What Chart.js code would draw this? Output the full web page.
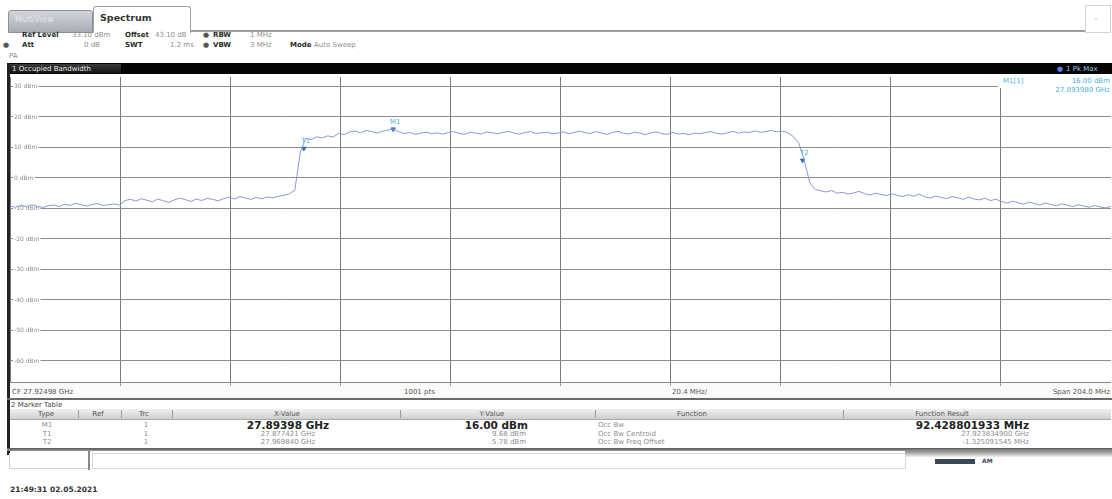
<!DOCTYPE html>
<html>
<head>
<meta charset="utf-8">
<script src="https://cdn.jsdelivr.net/npm/chart.js@4.4.1/dist/chart.umd.min.js"></script>
<style>
  body { margin: 0; width: 1112px; height: 499px; overflow: hidden; background: #fff; position: relative;
         font-family: "DejaVu Sans", sans-serif; }
  .t { position: absolute; white-space: nowrap; font-size: 7px; line-height: 8px; color: #8c8c8c; }
  .b { color: #2a2a2a; font-weight: bold; }
  .c { transform: translateX(-50%); }
  .r { transform: translateX(-100%); }
  .big { font-size: 10.5px; line-height: 10px; font-weight: bold; color: #222; }
  .cyan { color: #4fb0e2; }
  .sep { position: absolute; width: 1px; background: #9a9a9a; }
  .tick { position: absolute; top: 383px; width: 1px; height: 3px; background: #999; }
</style>
</head>
<body>
<!-- tabs -->
<div style="position:absolute;left:8px;top:10px;width:83px;height:21px;background:linear-gradient(#d2d4d8,#a9adb3);border:1px solid #8d9096;border-radius:3px 3px 0 0;"></div>
<div class="t" style="left:15px;top:16px;font-size:8px;color:#e4e8ee;">MultiView</div>
<div style="position:absolute;left:93px;top:6px;width:96px;height:26px;background:#fff;border:1px solid #a0a0a0;border-bottom:none;border-radius:3px 3px 0 0;"></div>
<div class="t" style="left:100px;top:13px;font-size:9.5px;line-height:10px;font-weight:bold;color:#333;">Spectrum</div>
<div style="position:absolute;left:190px;top:30px;width:895px;height:2px;background:#9c9c9c;"></div>
<div style="position:absolute;left:1085px;top:5px;width:24px;height:26px;border:1px solid #d4d4d4;"></div>
<div class="t" style="left:1093px;top:14px;color:#bbb;">&#8964;</div>

<!-- setup header -->
<div class="t b" style="left:22px;top:31px;">Ref Level</div>
<div class="t" style="left:72px;top:31px;">33.10 dBm</div>
<div class="t b" style="left:125px;top:31px;">Offset</div>
<div class="t" style="left:155px;top:31px;">43.10 dB</div>
<div class="t" style="left:203px;top:31px;color:#555;">&#9679;</div>
<div class="t b" style="left:213px;top:31px;">RBW</div>
<div class="t" style="left:250px;top:31px;">1 MHz</div>
<div class="t" style="left:3px;top:41px;color:#555;">&#9679;</div>
<div class="t b" style="left:22px;top:41px;">Att</div>
<div class="t" style="left:84px;top:41px;">0 dB</div>
<div class="t b" style="left:125px;top:41px;">SWT</div>
<div class="t" style="left:170px;top:41px;">1.2 ms</div>
<div class="t" style="left:203px;top:41px;color:#555;">&#9679;</div>
<div class="t b" style="left:213px;top:41px;">VBW</div>
<div class="t" style="left:250px;top:41px;">3 MHz</div>
<div class="t b" style="left:290px;top:41px;">Mode</div>
<div class="t" style="left:314px;top:41px;">Auto Sweep</div>
<div class="t" style="left:9px;top:52px;">PA</div>

<!-- window title bar -->
<div style="position:absolute;left:7px;top:63px;width:1105px;height:11px;background:#050505;"></div>
<div style="position:absolute;left:9px;top:64px;width:112px;height:9px;background:linear-gradient(#3a3a3a,#151515);"></div>
<div class="t" style="left:12px;top:65px;color:#e8e8e8;">1 Occupied Bandwidth</div>
<div class="t" style="left:1057px;top:65px;color:#5a7cf0;">&#9679;</div>
<div class="t" style="left:1066px;top:65px;color:#9cc8f0;">1 Pk Max</div>

<!-- left frame -->
<div style="position:absolute;left:7px;top:63px;width:3px;height:392px;background:#222;"></div>

<!-- plot -->
<div style="position:absolute;left:10px;top:77px;width:1101px;height:305px;">
  <canvas id="spec"></canvas>
</div>

<!-- marker info -->
<div style="position:absolute;left:998px;top:76px;width:113px;height:12px;background:#fff;"></div>
<div class="t cyan" style="left:1003px;top:77px;">M1[1]</div>
<div class="t cyan r" style="left:1110px;top:77px;">16.00 dBm</div>
<div class="t cyan r" style="left:1110px;top:86px;">27.893980 GHz</div>

<!-- axis info row -->
<div style="position:absolute;left:10px;top:382px;width:1101px;height:16px;background:#fafafa;border-top:1px solid #888;"></div>
<div class="tick" style="left:120px;"></div><div class="tick" style="left:230px;"></div>
<div class="tick" style="left:340px;"></div><div class="tick" style="left:450px;"></div>
<div class="tick" style="left:560px;"></div><div class="tick" style="left:670px;"></div>
<div class="tick" style="left:780px;"></div><div class="tick" style="left:890px;"></div>
<div class="tick" style="left:1000px;"></div>
<div class="t" style="left:12px;top:388px;color:#555;">CF 27.92498 GHz</div>
<div class="t" style="left:404px;top:388px;color:#555;">1001 pts</div>
<div class="t" style="left:672px;top:388px;color:#555;">20.4 MHz/</div>
<div class="t r" style="left:1110px;top:388px;color:#555;">Span 204.0 MHz</div>
<div style="position:absolute;left:7px;top:398px;width:1105px;height:2px;background:#6a6a6a;"></div>

<!-- marker table -->
<div class="t" style="left:11px;top:401px;color:#444;">2 Marker Table</div>
<div style="position:absolute;left:10px;top:409px;width:1101px;height:10px;background:linear-gradient(#f0f0f0,#cfcfcf);border-bottom:1px solid #aaa;"></div>
<div class="sep" style="left:78px;top:410px;height:8px;"></div>
<div class="sep" style="left:121px;top:410px;height:8px;"></div>
<div class="sep" style="left:172px;top:410px;height:8px;"></div>
<div class="sep" style="left:400px;top:410px;height:8px;"></div>
<div class="sep" style="left:595px;top:410px;height:8px;"></div>
<div class="sep" style="left:843px;top:410px;height:8px;"></div>
<div class="t c" style="left:46px;top:410px;color:#555;">Type</div>
<div class="t c" style="left:98px;top:410px;color:#555;">Ref</div>
<div class="t c" style="left:144px;top:410px;color:#555;">Trc</div>
<div class="t c" style="left:287px;top:410px;color:#555;">X-Value</div>
<div class="t c" style="left:492px;top:410px;color:#555;">Y-Value</div>
<div class="t c" style="left:692px;top:410px;color:#555;">Function</div>
<div class="t c" style="left:942px;top:410px;color:#555;">Function Result</div>

<div class="t c" style="left:47px;top:421px;">M1</div>
<div class="t c" style="left:146px;top:421px;">1</div>
<div class="t c big" style="left:288px;top:420px;">27.89398 GHz</div>
<div class="t r big" style="left:528px;top:420px;">16.00 dBm</div>
<div class="t" style="left:598px;top:421px;">Occ Bw</div>
<div class="t r big" style="left:1029px;top:420px;">92.428801933 MHz</div>

<div class="t c" style="left:47px;top:430px;">T1</div>
<div class="t c" style="left:146px;top:430px;">1</div>
<div class="t c" style="left:288px;top:430px;">27.877421 GHz</div>
<div class="t r" style="left:526px;top:430px;">9.68 dBm</div>
<div class="t" style="left:598px;top:430px;">Occ Bw Centroid</div>
<div class="t r" style="left:1029px;top:430px;">27.923834900 GHz</div>

<div class="t c" style="left:47px;top:438px;">T2</div>
<div class="t c" style="left:146px;top:438px;">1</div>
<div class="t c" style="left:288px;top:438px;">27.969840 GHz</div>
<div class="t r" style="left:526px;top:438px;">5.78 dBm</div>
<div class="t" style="left:598px;top:438px;">Occ Bw Freq Offset</div>
<div class="t r" style="left:1029px;top:438px;">-1.325091545 MHz</div>

<!-- status bar -->
<div style="position:absolute;left:7px;top:448px;width:1105px;height:3px;background:linear-gradient(#555,#9a9a9a);"></div>
<div style="position:absolute;left:9px;top:453px;width:78px;height:15px;border:1px solid #d0d0d0;border-top:none;"></div>
<div style="position:absolute;left:88px;top:451px;width:2px;height:19px;background:#888;"></div>
<div style="position:absolute;left:92px;top:453px;width:812px;height:14px;border:1px solid #d8d8d8;"></div>
<div style="position:absolute;left:905px;top:451px;width:207px;height:6px;background:linear-gradient(#8a8a8a,#f0f0f0);"></div>
<div style="position:absolute;left:935px;top:459px;width:40px;height:5px;background:#3c4656;"></div>
<div class="t" style="left:982px;top:457px;font-size:6px;color:#3c4656;font-weight:bold;">AM</div>

<div class="t" style="left:10px;top:486px;font-size:7.5px;font-weight:bold;color:#333;">21:49:31 02.05.2021</div>

<script>
// sweep settings
const startGHz = 27.82298;
const stopGHz = 28.02698;
const gridGHz = [27.82298, 27.84338, 27.86378, 27.88418, 27.90458, 27.92498,
                 27.94538, 27.96578, 27.98618, 28.00658, 28.02698];
const refLevel = 33.1;
const bottomLevel = -66.9;
const levelTicks = [30, 20, 10, 0, -10, -20, -30, -40, -50, -60];

// trace 1 (Pk Max)
const traceDbm = [
  -9.2, -9.6, -9.0, -9.4, -8.8, -9.3, -9.7, -9.1, -8.9, -9.4,
  -8.6, -9.0, -8.3, -8.8, -9.2, -8.7, -8.4, -9.0, -8.8, -8.5,
  -8.9, -7.4, -7.0, -7.6, -6.8, -7.3, -7.8, -6.9, -7.5, -8.0,
  -7.2, -6.6, -7.1, -7.7, -6.9, -7.4, -6.7, -7.0, -7.5, -6.8,
  -6.3, -6.9, -6.1, -6.6, -7.0, -6.4, -6.8, -6.2, -6.5, -6.0,
  -5.7, -5.2, -4.0, 8.5, 13.0, 12.6, 13.5, 13.1, 13.8, 13.4,
  14.6, 14.2, 15.1, 15.4, 14.8, 15.6, 15.2, 14.7, 15.3, 15.7,
  16.0, 15.1, 14.6, 14.9, 14.3, 14.7, 15.0, 14.5, 14.8, 14.4,
  14.9, 15.2, 14.6, 14.3, 15.0, 14.7, 14.4, 15.1, 14.8, 14.5,
  14.9, 15.3, 14.7, 14.4, 14.9, 15.2, 14.6, 14.8, 15.0, 14.5,
  14.7, 15.1, 14.5, 14.9, 15.4, 14.8, 14.6, 15.2, 14.7, 14.3,
  14.9, 15.3, 14.6, 14.4, 15.0, 14.7, 14.2, 14.8, 15.1, 14.5,
  14.3, 14.9, 14.4, 14.6, 14.2, 14.7, 14.5, 14.9, 15.2, 14.6,
  14.4, 14.8, 15.3, 14.7, 15.1, 14.9, 15.4, 15.0, 15.2, 15.6,
  15.1, 15.4, 14.8, 13.6, 11.5, 5.8, -1.5, -3.8, -4.2, -4.6,
  -4.1, -5.0, -4.7, -5.3, -4.9, -4.4, -5.1, -5.6, -5.0, -5.4,
  -5.8, -5.2, -5.7, -6.1, -5.5, -6.0, -5.3, -6.2, -6.6, -5.9,
  -6.4, -6.8, -6.1, -6.5, -7.0, -6.3, -6.9, -7.2, -6.6, -7.4,
  -7.0, -7.7, -8.3, -7.6, -8.1, -8.6, -7.9, -8.4, -8.9, -8.2,
  -8.7, -9.1, -8.5, -8.9, -9.4, -8.8, -9.2, -9.6, -9.0, -9.5,
  -9.8, -9.3
];

// markers from the marker table
const markerNames = ['M1', 'T1', 'T2'];
const markerGHz = [27.89398, 27.877421, 27.969840];
const markerDbm = [16.00, 9.68, 5.78];

// sweep points are evenly spaced over the span
const step = (stopGHz - startGHz) / (traceDbm.length - 1);
const traceData = traceDbm.map((v, i) => ({ x: startGHz + i * step, y: v }));
const markerData = markerGHz.map((f, i) => ({ x: f, y: markerDbm[i] }));

const markerLabels = {
  id: 'markerLabels',
  afterDatasetsDraw(chart) {
    const ctx = chart.ctx;
    const meta = chart.getDatasetMeta(1);
    ctx.save();
    ctx.font = '7px "DejaVu Sans"';
    ctx.fillStyle = '#45b2e6';
    ctx.textAlign = 'center';
    meta.data.forEach((pt, i) => {
      ctx.fillText(markerNames[i], pt.x + 2, pt.y - 5);
    });
    ctx.restore();
  }
};

new Chart(document.getElementById('spec'), {
  type: 'line',
  data: {
    datasets: [
      {
        label: '1 Pk Max',
        data: traceData,
        borderColor: '#8d94dc',
        borderWidth: 1,
        pointRadius: 0,
        tension: 0
      },
      {
        type: 'scatter',
        label: 'Markers',
        data: markerData,
        pointStyle: 'triangle',
        rotation: 180,
        pointRadius: 2.5,
        backgroundColor: '#2f6fc4',
        borderColor: '#2f6fc4'
      }
    ]
  },
  options: {
    responsive: true,
    maintainAspectRatio: false,
    animation: false,
    layout: { padding: 0, autoPadding: false },
    plugins: { legend: { display: false }, tooltip: { enabled: false } },
    scales: {
      x: {
        type: 'linear',
        min: startGHz,
        max: stopGHz,
        afterBuildTicks: axis => { axis.ticks = gridGHz.map(v => ({ value: v })); },
        ticks: { display: false },
        grid: { color: '#7c7c7c', drawTicks: false },
        border: { display: false }
      },
      y: {
        min: bottomLevel,
        max: refLevel,
        afterBuildTicks: axis => { axis.ticks = levelTicks.map(v => ({ value: v })); },
        afterFit: axis => { axis.width = 0; axis.paddingTop = 0; axis.paddingBottom = 0; },
        ticks: {
          mirror: true,
          padding: 4,
          color: '#8a8a8a',
          font: { family: 'DejaVu Sans', size: 6 },
          callback: v => v + ' dBm',
          showLabelBackdrop: true,
          backdropColor: '#ffffff',
          backdropPadding: 1
        },
        grid: { color: '#8c8c8c', drawTicks: false },
        border: { display: false }
      }
    }
  },
  plugins: [markerLabels]
});
</script>
</body>
</html>
